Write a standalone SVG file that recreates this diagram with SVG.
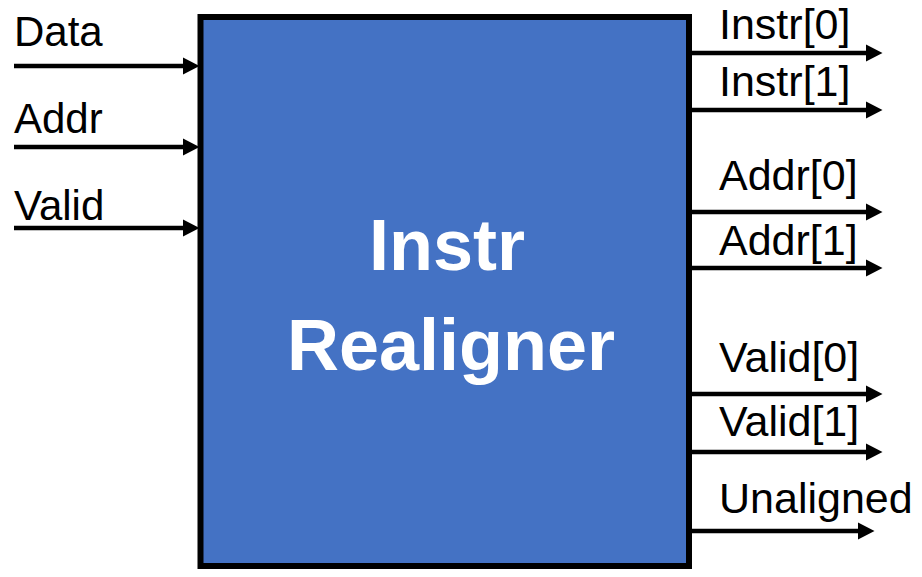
<svg xmlns="http://www.w3.org/2000/svg" width="922" height="577" viewBox="0 0 922 577">
<defs>
<marker id="arr" markerUnits="userSpaceOnUse" markerWidth="17" markerHeight="18" refX="8" refY="8.5" orient="auto" viewBox="0 0 17 17">
<path d="M0,0 L16.5,8.5 L0,17 z" fill="#000"/>
</marker>
</defs>
<style>
.lbl{font-family:"Liberation Sans",Arial,sans-serif;font-size:42px;fill:#000}
.rl{font-size:43px}
.title{font-family:"Liberation Sans",Arial,sans-serif;font-size:72px;font-weight:bold;fill:#fff;text-anchor:middle}
.wire{stroke:#000;stroke-width:4.5;fill:none;marker-end:url(#arr)}
</style>
<rect width="922" height="577" fill="#fff"/>
<g id="realigner">
<rect x="200.5" y="17" width="488.5" height="549" fill="#4472C4" stroke="#000" stroke-width="6"/>
<text class="title" x="447" y="270">Instr</text>
<text class="title" x="451" y="370">Realigner</text>
</g>
<g id="inputs">
<text class="lbl" x="14" y="46">Data</text>
<text class="lbl" x="14" y="133">Addr</text>
<text class="lbl" x="14" y="220">Valid</text>
</g>
<g id="outputs">
<text class="lbl rl" x="719" y="39">Instr[0]</text>
<text class="lbl rl" x="719" y="96">Instr[1]</text>
<text class="lbl rl" x="719" y="190">Addr[0]</text>
<text class="lbl rl" x="719" y="255">Addr[1]</text>
<text class="lbl rl" x="719" y="372">Valid[0]</text>
<text class="lbl rl" x="719" y="436">Valid[1]</text>
<text class="lbl rl" x="719" y="513">Unaligned</text>
</g>
<g id="connectors">
<line class="wire" x1="14" y1="66" x2="191" y2="66"/>
<line class="wire" x1="14" y1="147" x2="191" y2="147"/>
<line class="wire" x1="14" y1="228" x2="191" y2="228"/>
<line class="wire" x1="692" y1="53" x2="874" y2="53"/>
<line class="wire" x1="692" y1="110" x2="874" y2="110"/>
<line class="wire" x1="692" y1="212" x2="874" y2="212"/>
<line class="wire" x1="692" y1="268" x2="874" y2="268"/>
<line class="wire" x1="692" y1="394" x2="874" y2="394"/>
<line class="wire" x1="692" y1="452" x2="874" y2="452"/>
<line class="wire" x1="692" y1="531" x2="866" y2="531"/>
</g>
</svg>
